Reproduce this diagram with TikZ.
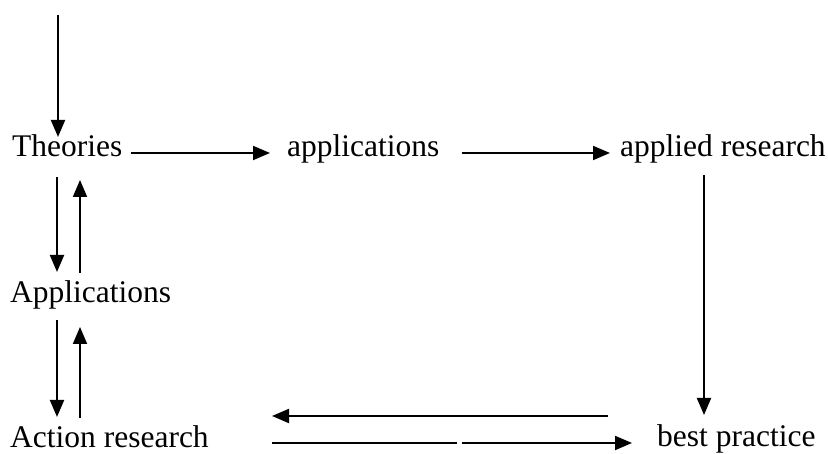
\documentclass[tikz,border=0pt]{standalone}
\usepackage{fontspec}
\setmainfont{Liberation Serif}
\usepackage{tikz}
\usetikzlibrary{arrows.meta}

\begin{document}
\begin{tikzpicture}[x=1pt, y=1pt,
    every node/.style={inner sep=0pt, anchor=base west, font=\fontsize{31.5}{36}\selectfont},
    arr/.style={line width=1.9pt, -{Triangle[length=17pt, width=14pt]}}]
    \useasboundingbox (0,0) rectangle (828,454);
    % row of words
    \node (th)  at (12,297)  {Theories};
    \node (app) at (287,297) {applications};
    \node (ar)  at (620,297) {applied research};
    \node (ap)  at (10,151)  {Applications};
    \node (act) at (10,6)    {Action research};
    \node (bp)  at (657,7)   {best practice};
    \coordinate (top) at (58,439);
    \coordinate (gapa) at (457,11);
    \coordinate (gapb) at (462,11);
    % arrows
    \draw[arr] (top) -- ([xshift=46pt, yshift=20pt]th.base west);
    \draw[arr] ([xshift=8pt, yshift=4pt]th.base east) -- ([xshift=-17pt, yshift=4pt]app.base west);
    \draw[arr] ([xshift=22pt, yshift=4pt]app.base east) -- ([xshift=-10pt, yshift=4pt]ar.base west);
    \draw[arr] ([xshift=84pt, yshift=-18pt]ar.base west) -- ([xshift=47pt, yshift=32pt]bp.base west);
    \draw[arr] ([xshift=-49pt, yshift=31pt]bp.base west) -- ([xshift=262pt, yshift=32pt]act.base west);
    \draw[line width=1.9pt] ([xshift=262pt, yshift=5pt]act.base west) -- (gapa);
    \draw[arr] (gapb) -- ([xshift=-25pt, yshift=4pt]bp.base west);
    \draw[arr] ([xshift=45pt, yshift=-20pt]th.base west) -- ([xshift=47pt, yshift=31pt]ap.base west);
    \draw[arr] ([xshift=70pt, yshift=30pt]ap.base west) -- ([xshift=68pt, yshift=-23pt]th.base west);
    \draw[arr] ([xshift=47pt, yshift=-17pt]ap.base west) -- ([xshift=47pt, yshift=31pt]act.base west);
    \draw[arr] ([xshift=70pt, yshift=30pt]act.base west) -- ([xshift=70pt, yshift=-24pt]ap.base west);
\end{tikzpicture}
\end{document}
